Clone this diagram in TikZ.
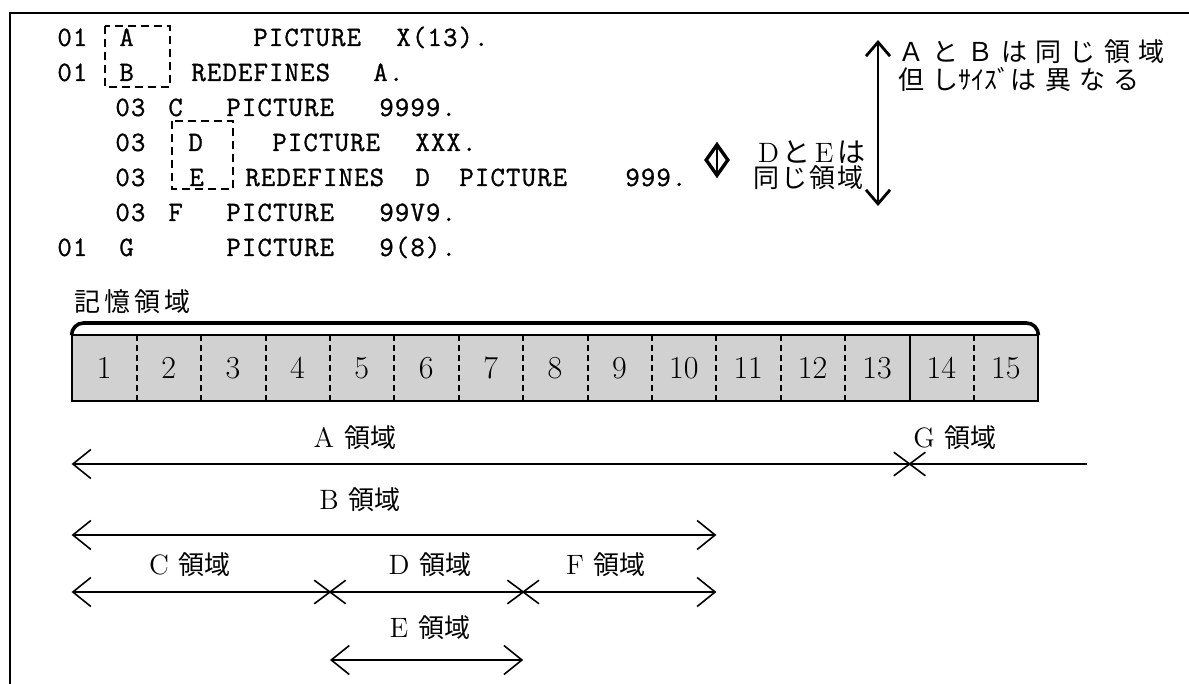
\documentclass[tikz,border=0pt]{standalone}
\usepackage{fontspec}
\newfontfamily\jp{Noto Sans CJK JP}
\newfontfamily\codefont[LetterSpace=4,FakeBold=1]{Latin Modern Mono}
\usetikzlibrary{arrows.meta,shapes.geometric,shapes.misc}
\tikzset{
  frame/.style={line width=1pt},
  code/.style={font=\codefont\fontsize{14}{14}\selectfont,anchor=base west,inner sep=0pt},
  namebox/.style={line width=0.8pt,dash pattern=on 4pt off 2.5pt},
  note/.style={font=\jp\addfontfeature{LetterSpace=32}\fontsize{13}{13}\selectfont,inner sep=0pt},
  samenote/.style={font=\jp\addfontfeature{LetterSpace=8}\fontsize{13}{13}\selectfont,inner sep=0pt},
  memlabel/.style={font=\jp\addfontfeature{LetterSpace=16}\fontsize{13}{13}\selectfont,inner sep=0pt},
  cell/.style={minimum width=32.2pt,minimum height=32.5pt,inner sep=0pt,fill=black!18,font=\fontsize{16}{16}\selectfont},
  baredge/.style={line width=1pt},
  sep/.style={line width=1pt,dash pattern=on 3pt off 2pt},
  storebrace/.style={line width=1.8pt,rounded corners=6pt},
  area/.style={font=\fontsize{14}{14}\selectfont,inner sep=0pt},
  xmark/.style={draw,cross out,line width=0.8pt,minimum width=15pt,minimum height=11pt,inner sep=0pt},
  span/.style={line width=0.8pt},
  tip/.style={arrows={#1},>={Straight Barb[length=9pt,width=14.5pt]}},
  bigarr/.style={line width=1.4pt,{Straight Barb[length=7pt,width=12pt]}-{Straight Barb[length=7pt,width=12pt]}},
}
\begin{document}
\begin{tikzpicture}[x=0.5pt,y=-0.5pt]
\useasboundingbox (0,0) rectangle (1189,684);

% ---------- frame ----------
\draw[frame] (10,684) -- (10,13) -- (1189,13);

% ---------- source listing ----------
\node[code] (n1) at (57,46) {01};
\node[code] (d1) at (119,46) {A};
\node[code] (p1) at (253,46) {PICTURE};
\node[code] (v1) at (396,46) {X(13).};

\node[code] (n2) at (57,81) {01};
\node[code] (d2) at (119,81) {B};
\node[code] (r2) at (191,81) {REDEFINES};
\node[code] (v2) at (373,81) {A.};

\node[code] (n3) at (115,116) {03};
\node[code] (d3) at (168,116) {C};
\node[code] (p3) at (226,116) {PICTURE};
\node[code] (v3) at (379,116) {9999.};

\node[code] (n4) at (115,151) {03};
\node[code] (d4) at (188,151) {D};
\node[code] (p4) at (272,151) {PICTURE};
\node[code] (v4) at (415,151) {XXX.};

\node[code] (n5) at (115,186) {03};
\node[code] (d5) at (189,186) {E};
\node[code] (r5) at (245,186) {REDEFINES};
\node[code] (o5) at (415,186) {D};
\node[code] (p5) at (459,186) {PICTURE};
\node[code] (v5) at (625,186) {999.};

\node[code] (n6) at (115,221) {03};
\node[code] (d6) at (168,221) {F};
\node[code] (p6) at (226,221) {PICTURE};
\node[code] (v6) at (379,221) {99V9.};

\node[code] (n7) at (57,256) {01};
\node[code] (d7) at (119,256) {G};
\node[code] (p7) at (226,256) {PICTURE};
\node[code] (v7) at (379,256) {9(8).};

% dashed boxes round the redefined names
\draw[namebox] (105,26) rectangle (170,87);
\draw[namebox] (172,121) rectangle (233,189);

% ---------- same-area notes ----------
\coordinate (vt) at (878,40);
\coordinate (vb) at (878,206);
\draw[bigarr] (vt) -- (vb);
\node[note,anchor=west] (ab) at (898,52) {ＡとＢは同じ領域};
\node[note,anchor=west] (sz) at (898,79) {但し{\jp ｻｲｽﾞ}は異なる};

\node[diamond,draw,line width=1.7pt,minimum width=11.5pt,minimum height=16pt,inner sep=0pt] (dia) at (717,160) {};
\draw[line width=1pt] (717,148) -- (717,172);
\node[samenote,anchor=east] (de) at (866,152) {\rmfamily\fontsize{14}{14}\selectfont D\hspace{2pt}{\jp と}\hspace{2pt}E\hspace{2pt}{\jp は}};
\node[samenote,anchor=west] (same) at (753,178) {同じ領域};

% ---------- storage bar ----------
\node[memlabel,anchor=west] (mem) at (74,302) {記憶領域};
\foreach \i in {1,...,15} \node[cell] (m\i) at ({64.4*\i+39.8},368) {\i};
\draw[baredge] (m1.north west) rectangle (m15.south east);
\foreach \i in {1,...,12,14} \draw[sep] (m\i.north east) -- (m\i.south east);
\draw[baredge] (m13.north east) -- (m13.south east);
\coordinate (brc) at (0,323);
\draw[storebrace] (m1.north west) |- (m8.north |- brc) -| (m15.north east);

% ---------- areas ----------
\coordinate (rowA) at (0,464);
\coordinate (rowB) at (0,535);
\coordinate (rowC) at (0,592);
\coordinate (rowE) at (0,660);
\coordinate (gend) at (1087,464);

\node[area] (la) at (355,438) {A\hspace{5pt}{\jp\fontsize{13}{13}\selectfont 領域}};
\node[area] (lg) at (955,438) {G\hspace{5pt}{\jp\fontsize{13}{13}\selectfont 領域}};
\node[xmark] (xg) at (m13.east |- rowA) {};
\draw[span,tip=<-] (m1.west |- rowA) -- (xg.center);
\draw[span] (xg.center) -- (gend);

\node[area] (lb) at (360,500) {B\hspace{5pt}{\jp\fontsize{13}{13}\selectfont 領域}};
\draw[span,tip=<->] (m1.west |- rowB) -- (m10.east |- rowB);

\node[area] (lc) at (190,565) {C\hspace{5pt}{\jp\fontsize{13}{13}\selectfont 領域}};
\node[area] (ld) at (430,565) {D\hspace{5pt}{\jp\fontsize{13}{13}\selectfont 領域}};
\node[area] (lf) at (606,565) {F\hspace{5pt}{\jp\fontsize{13}{13}\selectfont 領域}};
\node[xmark] (xcd) at (m4.east |- rowC) {};
\node[xmark] (xdf) at (m7.east |- rowC) {};
\draw[span,tip=<-] (m1.west |- rowC) -- (xcd.center);
\draw[span] (xcd.center) -- (xdf.center);
\draw[span,tip=->] (xdf.center) -- (m10.east |- rowC);

\node[area] (le) at (430,628) {E\hspace{5pt}{\jp\fontsize{13}{13}\selectfont 領域}};
\draw[span,tip=<->] (m4.east |- rowE) -- (m7.east |- rowE);
\end{tikzpicture}
\end{document}
